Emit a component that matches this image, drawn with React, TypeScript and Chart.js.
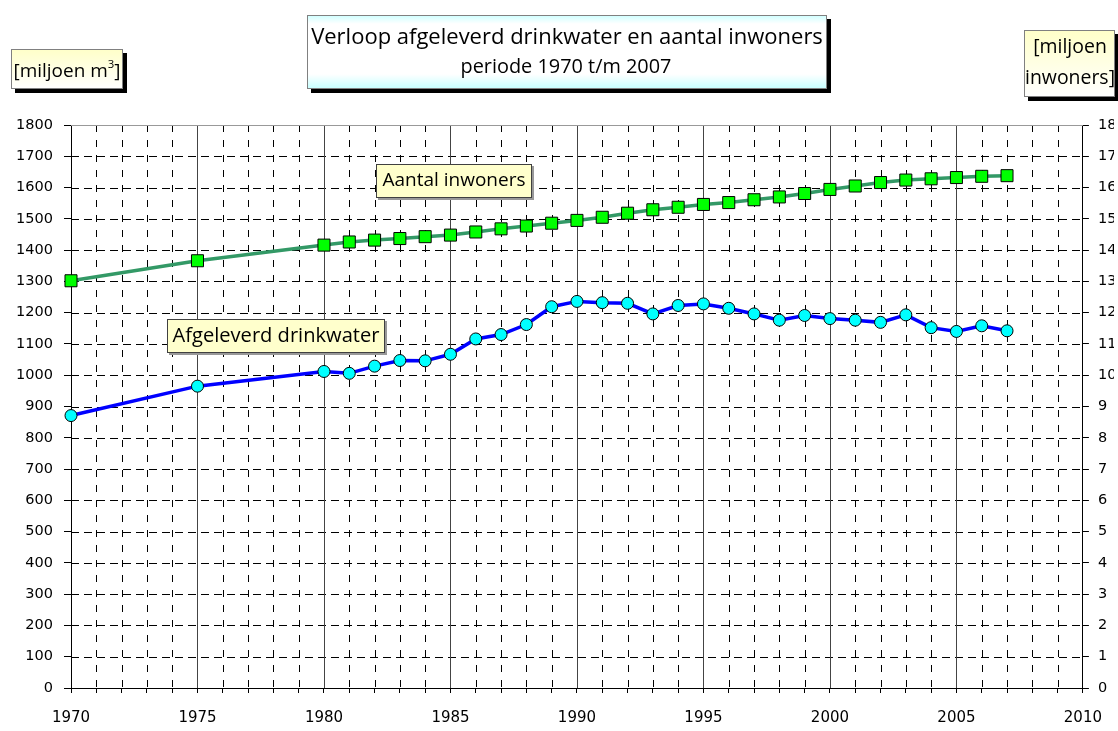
import React, { useEffect, useRef } from 'react';
import { Chart, registerables } from 'chart.js';

Chart.register(...registerables);

const years = [1970, 1975, 1980, 1981, 1982, 1983, 1984, 1985, 1986, 1987, 1988, 1989, 1990, 1991, 1992, 1993, 1994, 1995, 1996, 1997, 1998, 1999, 2000, 2001, 2002, 2003, 2004, 2005, 2006, 2007];
const drinkwater = [871, 965, 1012, 1006, 1029, 1047, 1046, 1067, 1116, 1130, 1162, 1219, 1236, 1232, 1230, 1196, 1223, 1228, 1214, 1196, 1176, 1191, 1181, 1176, 1169, 1193, 1152, 1140, 1158, 1142];
const inwoners = [13.02, 13.66, 14.16, 14.26, 14.32, 14.37, 14.43, 14.48, 14.58, 14.68, 14.77, 14.86, 14.95, 15.05, 15.18, 15.29, 15.37, 15.46, 15.52, 15.61, 15.7, 15.81, 15.94, 16.05, 16.16, 16.24, 16.28, 16.32, 16.36, 16.38];

const titleLine1 = 'Verloop afgeleverd drinkwater en aantal inwoners';
const titleLine2 = 'periode 1970 t/m 2007';
const leftUnit = ['[miljoen m', '3', ']'];
const rightUnit = ['[miljoen', 'inwoners]'];
const labelInwoners = 'Aantal inwoners';
const labelDrinkwater = 'Afgeleverd drinkwater';

const xMin = 1970;
const xMax = 2010;
const yMax = 1800;
const y2Max = 18;

const TEXT_FONT = "'Open Sans', 'DejaVu Sans', sans-serif";
const TICK_FONT = "'DejaVu Sans', Verdana, sans-serif";

function fitSize(ctx: CanvasRenderingContext2D, text: string, width: number) {
  ctx.font = `100px ${TEXT_FONT}`;
  const w = ctx.measureText(text).width;
  return (100 * width) / w;
}

function drawBox(ctx: CanvasRenderingContext2D, x: number, y: number, w: number, h: number, fill: any, stroke: string, shadow: number, shadowColor: string) {
  if (shadow > 0) {
    ctx.fillStyle = shadowColor;
    ctx.fillRect(x + shadow, y + shadow, w, h);
  }
  ctx.fillStyle = fill;
  ctx.fillRect(x, y, w, h);
  ctx.strokeStyle = stroke;
  ctx.lineWidth = 1;
  ctx.setLineDash([]);
  ctx.strokeRect(x + 0.5, y + 0.5, w - 1, h - 1);
}

function drawFitted(ctx: CanvasRenderingContext2D, text: string, cx: number, cy: number, width: number) {
  const size = fitSize(ctx, text, width);
  ctx.font = `${size}px ${TEXT_FONT}`;
  ctx.fillStyle = '#000';
  ctx.textAlign = 'center';
  ctx.textBaseline = 'middle';
  ctx.fillText(text, cx, cy);
}

const gridPlugin = {
  id: 'customGrid',
  beforeDatasetsDraw(chart: any) {
    const ctx = chart.ctx as CanvasRenderingContext2D;
    const { left, right, top, bottom } = chart.chartArea;
    const xs = chart.scales.x;
    const ys = chart.scales.y;
    ctx.save();
    ctx.lineWidth = 1;
    ctx.strokeStyle = '#000';
    ctx.setLineDash([8, 5]);
    for (let v = 100; v < yMax; v += 100) {
      const y = Math.round(ys.getPixelForValue(v)) + 0.5;
      ctx.beginPath();
      ctx.moveTo(left, y);
      ctx.lineTo(right, y);
      ctx.stroke();
    }
    for (let yr = xMin + 1; yr < xMax; yr++) {
      const x = Math.round(xs.getPixelForValue(yr)) + 0.5;
      ctx.beginPath();
      if (yr % 5 === 0) {
        ctx.setLineDash([]);
        ctx.strokeStyle = '#444';
      } else {
        ctx.setLineDash([7, 8]);
        ctx.strokeStyle = '#000';
      }
      ctx.moveTo(x, top);
      ctx.lineTo(x, bottom);
      ctx.stroke();
    }
    ctx.setLineDash([]);
    ctx.strokeStyle = '#999';
    ctx.beginPath();
    ctx.moveTo(left, Math.round(top) + 0.5);
    ctx.lineTo(right, Math.round(top) + 0.5);
    ctx.stroke();
    ctx.restore();
  },
};

const textPlugin = {
  id: 'textBoxes',
  afterDraw(chart: any) {
    const ctx = chart.ctx as CanvasRenderingContext2D;
    ctx.save();

    const tg = ctx.createLinearGradient(0, 15, 0, 89);
    tg.addColorStop(0, '#CCFFFF');
    tg.addColorStop(0.12, '#FFFFFF');
    tg.addColorStop(0.8, '#FFFFFF');
    tg.addColorStop(1, '#C4FFFF');
    drawBox(ctx, 307, 15, 520, 74, tg, '#808080', 4, '#000');
    drawFitted(ctx, titleLine1, 567, 38, 512);
    drawFitted(ctx, titleLine2, 566, 67, 211);

    const lg = ctx.createLinearGradient(0, 49, 0, 89);
    lg.addColorStop(0, '#FFFFC8');
    lg.addColorStop(1, '#FFFFFF');
    drawBox(ctx, 11, 49, 112, 40, lg, '#808080', 4, '#000');
    {
      ctx.font = `100px ${TEXT_FONT}`;
      const w1 = ctx.measureText(leftUnit[0]).width;
      const w3 = ctx.measureText(leftUnit[2]).width;
      ctx.font = `60px ${TEXT_FONT}`;
      const w2 = ctx.measureText(leftUnit[1]).width;
      const total = w1 + w2 + w3;
      const s = 107 / total;
      let x = 67 - 53.5;
      const cy = 72;
      ctx.fillStyle = '#000';
      ctx.textAlign = 'left';
      ctx.textBaseline = 'middle';
      ctx.font = `${100 * s}px ${TEXT_FONT}`;
      ctx.fillText(leftUnit[0], x, cy);
      x += w1 * s;
      ctx.font = `${60 * s}px ${TEXT_FONT}`;
      ctx.fillText(leftUnit[1], x, cy - 40 * s);
      x += w2 * s;
      ctx.font = `${100 * s}px ${TEXT_FONT}`;
      ctx.fillText(leftUnit[2], x, cy);
    }

    const rg = ctx.createLinearGradient(0, 30, 0, 97);
    rg.addColorStop(0, '#FFFFC8');
    rg.addColorStop(1, '#FFFFFF');
    drawBox(ctx, 1024, 30, 91, 67, rg, '#808080', 4, '#000');
    {
      const s2 = fitSize(ctx, rightUnit[1], 90);
      ctx.font = `${s2}px ${TEXT_FONT}`;
      ctx.fillStyle = '#000';
      ctx.textAlign = 'center';
      ctx.textBaseline = 'middle';
      ctx.fillText(rightUnit[0], 1070, 47);
      ctx.fillText(rightUnit[1], 1070, 78);
    }

    drawBox(ctx, 376, 164, 156, 34, '#FFFFCC', '#404040', 2, '#999');
    drawFitted(ctx, labelInwoners, 454, 181, 143);
    drawBox(ctx, 167, 319, 218, 34, '#FFFFCC', '#404040', 2, '#999');
    drawFitted(ctx, labelDrinkwater, 276, 336, 207);

    ctx.restore();
  },
};

export default function App() {
  const ref = useRef<HTMLCanvasElement | null>(null);

  useEffect(() => {
    document.body.style.margin = '0';
    document.body.style.overflow = 'hidden';
    const canvas = ref.current;
    if (!canvas) return;

    const chart = new Chart(canvas, {
      type: 'line',
      data: {
        datasets: [
          {
            label: labelInwoners,
            data: years.map((yr, i) => ({ x: yr, y: inwoners[i] })),
            yAxisID: 'y2',
            borderColor: '#339966',
            borderWidth: 3.5,
            pointStyle: 'rect',
            pointRadius: 8.5,
            pointBackgroundColor: '#00FF00',
            pointBorderColor: '#000',
            pointBorderWidth: 1,
            tension: 0,
            clip: false,
          },
          {
            label: labelDrinkwater,
            data: years.map((yr, i) => ({ x: yr, y: drinkwater[i] })),
            yAxisID: 'y',
            borderColor: '#0000FF',
            borderWidth: 3.5,
            pointStyle: 'circle',
            pointRadius: 6,
            pointBackgroundColor: '#00FFFF',
            pointBorderColor: '#000',
            pointBorderWidth: 1,
            tension: 0,
            clip: false,
          },
        ],
      },
      options: {
        animation: false,
        responsive: false,
        devicePixelRatio: 1,
        layout: { padding: { top: 125, left: 0, right: 0, bottom: 0 }, autoPadding: false },
        plugins: {
          legend: { display: false },
          tooltip: { enabled: false },
          title: { display: false },
        },
        scales: {
          x: {
            type: 'linear',
            min: xMin,
            max: xMax,
            ticks: {
              stepSize: 1,
              autoSkip: false,
              maxRotation: 0,
              padding: 16,
              color: '#000',
              font: { family: TICK_FONT, size: 15 },
              callback: (v: any) => (Number(v) % 5 === 0 ? String(v) : ''),
            },
            grid: { drawOnChartArea: false, drawTicks: true, tickLength: 5, color: '#000' },
            border: { display: true, color: '#000', width: 1 },
            afterFit: (s: any) => {
              s.height = 43;
            },
          },
          y: {
            type: 'linear',
            position: 'left',
            min: 0,
            max: yMax,
            ticks: {
              stepSize: 100,
              padding: 11,
              color: '#000',
              font: { family: TICK_FONT, size: 14.5 },
              callback: (v: any) => String(v),
            },
            grid: { drawOnChartArea: false, drawTicks: true, tickLength: 7, color: '#000' },
            border: { display: true, color: '#000', width: 1 },
            afterFit: (s: any) => {
              s.width = 71;
            },
          },
          y2: {
            type: 'linear',
            position: 'right',
            min: 0,
            max: y2Max,
            ticks: {
              stepSize: 1,
              padding: 9,
              color: '#000',
              font: { family: TICK_FONT, size: 14.5 },
              callback: (v: any) => String(v),
            },
            grid: { drawOnChartArea: false, drawTicks: true, tickLength: 6, color: '#000' },
            border: { display: true, color: '#000', width: 1 },
            afterFit: (s: any) => {
              s.width = 31;
            },
          },
        },
      },
      plugins: [gridPlugin, textPlugin],
    } as any);

    return () => chart.destroy();
  }, []);

  return <canvas ref={ref} width={1118} height={731} style={{ display: 'block', width: 1118, height: 731 }} />;
}
